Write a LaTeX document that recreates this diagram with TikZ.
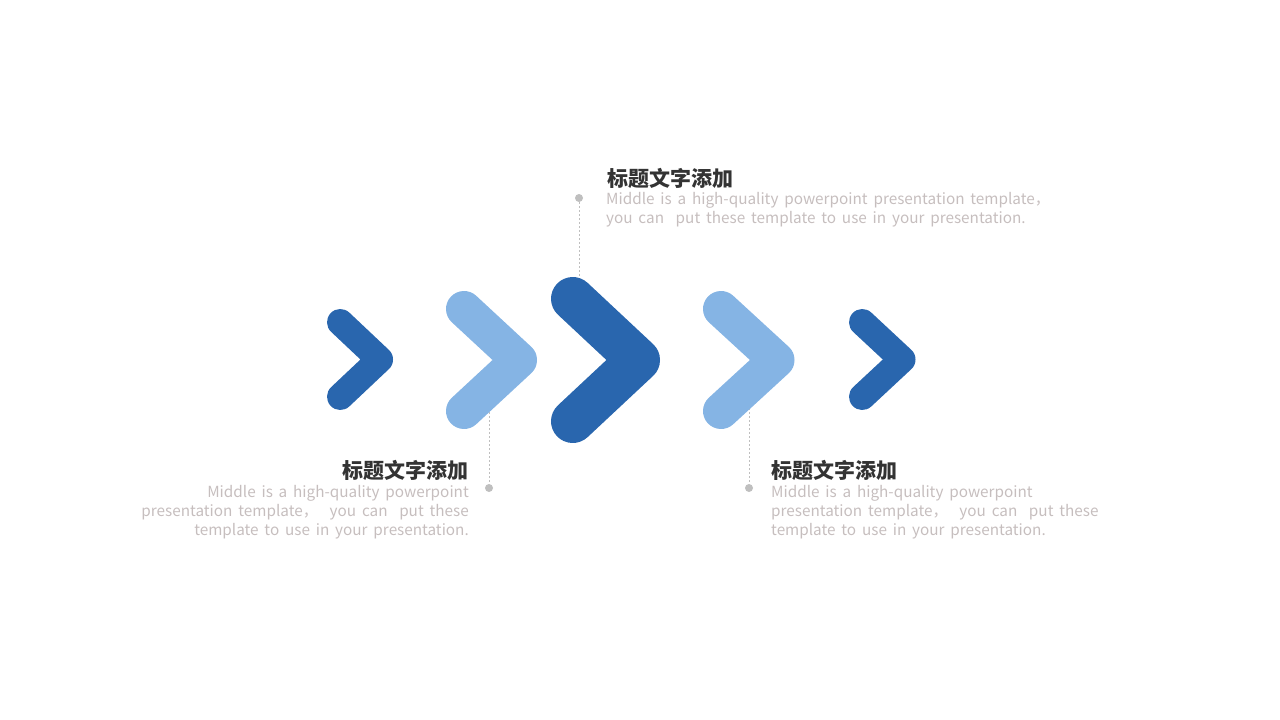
\documentclass[tikz,border=0pt]{standalone}
\usepackage{fontspec}
\newfontfamily\cjk{Noto Sans CJK SC}
\newfontfamily\cjkbody{Noto Sans CJK SC}[WordSpace=1.7]
\definecolor{darkblue}{HTML}{2966AE}
\definecolor{lightblue}{HTML}{85B4E4}
\definecolor{titlec}{HTML}{333333}
\definecolor{bodyc}{HTML}{C6BEBE}
\definecolor{guidec}{HTML}{BFBFBF}
\begin{document}
\begin{tikzpicture}[x=1pt,y=-1pt,
  chev/.style={line cap=round, line join=round},
  guideline/.style={draw=guidec, line width=0.9pt, dash pattern=on 2pt off 2pt},
  dotnode/.style={circle, fill=guidec, draw=none, minimum size=8pt, inner sep=0pt},
  ttl/.style={inner sep=0pt, text=titlec, font=\cjk\fontsize{21}{25}\selectfont\bfseries},
  bdy/.style={inner sep=0pt, text=bodyc, font=\cjkbody\fontsize{15.3}{19}\selectfont}]
\useasboundingbox (0,0) rectangle (1280,720);
% guide coordinates and dots
\node[dotnode] (d1) at (579,198) {};
\node[dotnode] (d2) at (489,488) {};
\node[dotnode] (d3) at (749,488) {};
\coordinate (g1) at (579,300);
\coordinate (g2) at (489,400);
\coordinate (g3) at (749,400);
\draw[guideline] (d1) -- (g1);
\draw[guideline] (g2) -- (d2);
\draw[guideline] (g3) -- (d3);
% chevrons
\coordinate (c1a) at (340.25,322.25); \coordinate (c1t) at (379.75,359.5); \coordinate (c1b) at (340.25,396.75);
\coordinate (c2a) at (464,309); \coordinate (c2t) at (519,360); \coordinate (c2b) at (464,411);
\coordinate (c3a) at (572.75,298.75); \coordinate (c3t) at (638.25,360); \coordinate (c3b) at (572.75,421.25);
\coordinate (c4a) at (721,309); \coordinate (c4t) at (776.5,360); \coordinate (c4b) at (721,411);
\coordinate (c5a) at (862.25,322.25); \coordinate (c5t) at (902.25,359.5); \coordinate (c5b) at (862.25,396.75);
\draw[chev, darkblue, line width=26.5pt] (c1a) -- (c1t) -- (c1b);
\draw[chev, lightblue, line width=36pt] (c2a) -- (c2t) -- (c2b);
\draw[chev, darkblue, line width=43.5pt] (c3a) -- (c3t) -- (c3b);
\draw[chev, lightblue, line width=36pt] (c4a) -- (c4t) -- (c4b);
\draw[chev, darkblue, line width=26.5pt] (c5a) -- (c5t) -- (c5b);
% top text
\node[ttl, anchor=base west] (t1) at (607,186) {标题文字添加};
\node[bdy, anchor=base west] (t1a) at (606,204.5) {Middle is a high-quality powerpoint presentation template，};
\node[bdy, anchor=base west] (t1b) at (606,223.5) {you can\ \ put these template to use in your presentation.};
% left text
\node[ttl, anchor=base east] (t2) at (469,478) {标题文字添加};
\node[bdy, anchor=base east] (t2a) at (469,497.5) {Middle is a high-quality powerpoint};
\node[bdy, anchor=base east] (t2b) at (469,516.5) {presentation template，\ \ you can\ \ put these};
\node[bdy, anchor=base east] (t2c) at (469,535.5) {template to use in your presentation.};
% right text
\node[ttl, anchor=base west] (t3) at (771,478) {标题文字添加};
\node[bdy, anchor=base west] (t3a) at (771,497.5) {Middle is a high-quality powerpoint};
\node[bdy, anchor=base west] (t3b) at (771,516.5) {presentation template，\ \ you can\ \ put these};
\node[bdy, anchor=base west] (t3c) at (771,535.5) {template to use in your presentation.};
\end{tikzpicture}
\end{document}
